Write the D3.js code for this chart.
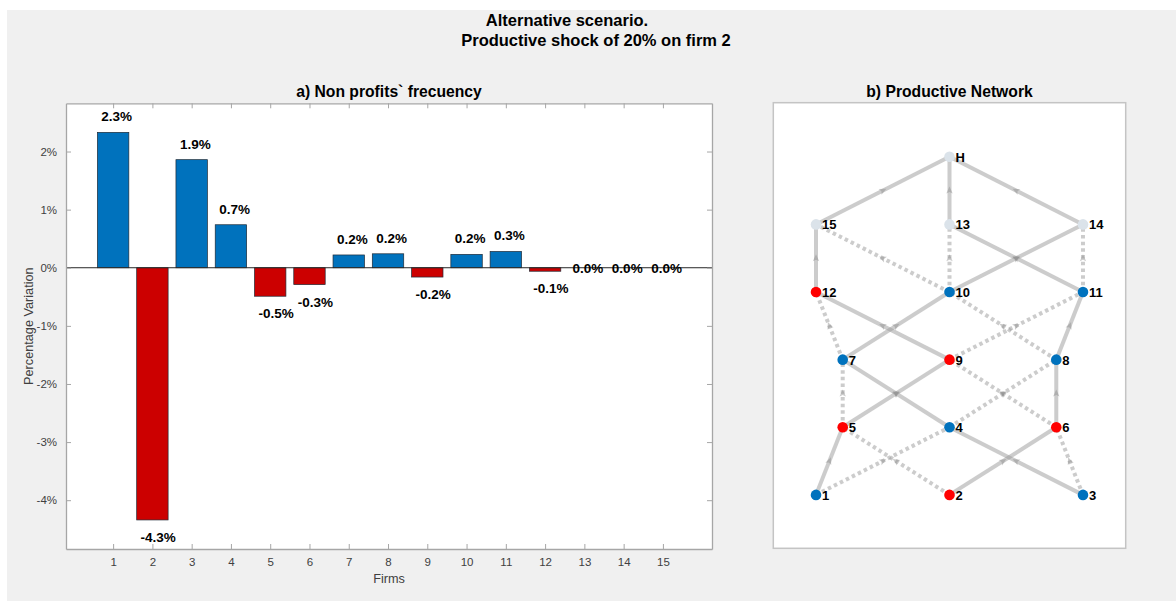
<!DOCTYPE html>
<html>
<head>
<meta charset="utf-8">
<script src="https://cdn.jsdelivr.net/npm/d3@7"></script>
<style>
  html, body { margin: 0; padding: 0; background: #ffffff; }
  text { font-family: "Liberation Sans", Arial, Helvetica, sans-serif; }
</style>
</head>
<body>
<svg id="chart" width="1176" height="601"></svg>
<script>
// ---------- Data ----------
const firms = [1, 2, 3, 4, 5, 6, 7, 8, 9, 10, 11, 12, 13, 14, 15];
const variation = [2.33, -4.34, 1.86, 0.74, -0.49, -0.29, 0.22, 0.24, -0.16, 0.23, 0.28, -0.06, 0, 0, 0];
const yTicks = [-4, -3, -2, -1, 0, 1, 2];

const nodeNames = ["1", "2", "3", "4", "5", "6", "7", "8", "9", "10", "11", "12", "13", "14", "15", "H"];
const nodeX     = [1, 2, 3, 2, 1.2, 2.8, 1.2, 2.8, 2, 2, 3, 1, 2, 3, 1, 2];
const nodeLevel = [1, 1, 1, 2, 2, 2, 3, 3, 3, 4, 4, 4, 5, 5, 5, 6];
const nodeGroup = ["gain", "loss", "gain", "gain", "loss", "loss", "gain", "gain", "loss", "gain", "gain", "loss", "top", "top", "top", "top"];

const solidEdges = [["15","H"],["13","H"],["14","H"],["12","15"],["10","14"],["11","13"],["9","12"],["7","10"],["8","11"],["4","7"],["5","9"],["6","8"],["1","5"],["3","4"],["2","6"]];
const dottedEdges = [["10","15"],["10","13"],["11","14"],["7","12"],["8","10"],["9","11"],["5","7"],["6","9"],["4","8"],["2","5"],["1","4"],["3","6"]];

// ---------- Styles ----------
const FIG_BG = "#f0f0f0";
const BLUE = "#0072BD";
const RED = "#CC0000";
const nodeColor = { gain: "#0072BD", loss: "#FF0000", top: "#dbe3ea" };

const svg = d3.select("#chart");

// figure background
svg.append("rect").attr("x", 0).attr("y", 0).attr("width", 1176).attr("height", 601).attr("fill", "#ffffff");
svg.append("rect").attr("x", 7).attr("y", 10).attr("width", 1169).attr("height", 591).attr("fill", FIG_BG);

// main title
svg.append("text").attr("x", 567).attr("y", 26).attr("text-anchor", "middle")
  .attr("font-size", 16.5).attr("font-weight", "bold").attr("fill", "#000").text("Alternative scenario.");
svg.append("text").attr("x", 596).attr("y", 46).attr("text-anchor", "middle")
  .attr("font-size", 16.5).attr("font-weight", "bold").attr("fill", "#000").text("Productive shock of 20% on firm 2");

// ---------- Panel a: bar chart ----------
const A = { left: 66, right: 712, top: 103.3, bottom: 549 };
const x = d3.scaleLinear().domain([-0.2, 16.25]).range([A.left, A.right]);
const yMin = d3.min(variation) - 0.5, yMax = d3.max(variation) + 0.5;
const y = d3.scaleLinear().domain([yMin, yMax]).range([A.bottom, A.top]);

const gA = svg.append("g");
gA.append("rect").attr("x", A.left).attr("y", A.top).attr("width", A.right - A.left)
  .attr("height", A.bottom - A.top).attr("fill", "#fff");

// bars
const bw = x(0.8) - x(0);
gA.selectAll("rect.bar").data(firms).enter().append("rect")
  .attr("class", "bar")
  .attr("x", (d) => x(d) - bw / 2)
  .attr("width", bw)
  .attr("y", (d, i) => y(Math.max(0, variation[i])))
  .attr("height", (d, i) => Math.abs(y(variation[i]) - y(0)))
  .attr("fill", (d, i) => variation[i] >= 0 ? BLUE : RED)
  .attr("stroke", "#1f2a36").attr("stroke-width", 0.7);

// baseline
gA.append("line").attr("x1", A.left).attr("x2", A.right).attr("y1", y(0)).attr("y2", y(0))
  .attr("stroke", "#262626").attr("stroke-width", 1);

// axes (box with inward ticks)
const axisColor = "#a6a6a6";
const tickColor = "#404040";
const axL = d3.axisLeft(y).tickValues(yTicks).tickFormat((d) => d + "%").tickSizeInner(-5).tickSizeOuter(0).tickPadding(9);
const axR = d3.axisRight(y).tickValues(yTicks).tickFormat("").tickSizeInner(-5).tickSizeOuter(0);
const axB = d3.axisBottom(x).tickValues(firms).tickFormat(d3.format("d")).tickSizeInner(-5).tickSizeOuter(0).tickPadding(9);
const axT = d3.axisTop(x).tickValues(firms).tickFormat("").tickSizeInner(-5).tickSizeOuter(0);

function styleAxis(g) {
  g.select(".domain").attr("stroke", axisColor).attr("stroke-width", 1.3);
  g.selectAll(".tick line").attr("stroke", axisColor).attr("stroke-width", 1);
  g.selectAll(".tick text").attr("fill", tickColor).attr("font-size", 11.5)
    .attr("font-family", "\"Liberation Sans\", Arial, sans-serif");
}
gA.append("g").attr("transform", `translate(${A.left},0)`).call(axL).call(styleAxis);
gA.append("g").attr("transform", `translate(${A.right},0)`).call(axR).call(styleAxis);
gA.append("g").attr("transform", `translate(0,${A.bottom})`).call(axB).call(styleAxis);
gA.append("g").attr("transform", `translate(0,${A.top})`).call(axT).call(styleAxis);

// value labels
gA.selectAll("text.val").data(firms).enter().append("text")
  .attr("class", "val")
  .attr("x", (d) => x(d - 0.3))
  .attr("y", (d, i) => {
    const v = variation[i];
    if (v === 0) return y(0) + 5;
    return v > 0 ? y(v) - 11 : y(v) + 22;
  })
  .attr("text-anchor", "start")
  .attr("font-size", 13.5).attr("font-weight", "bold").attr("fill", "#000")
  .text((d, i) => variation[i].toFixed(1) + "%");

// axis labels and title
gA.append("text").attr("x", (A.left + A.right) / 2).attr("y", 583).attr("text-anchor", "middle")
  .attr("font-size", 12.7).attr("fill", tickColor).text("Firms");
gA.append("text").attr("transform", `translate(33,${(A.top + A.bottom) / 2}) rotate(-90)`)
  .attr("text-anchor", "middle").attr("font-size", 12.7).attr("fill", tickColor).text("Percentage Variation");
gA.append("text").attr("x", (A.left + A.right) / 2).attr("y", 97).attr("text-anchor", "middle")
  .attr("font-size", 15.7).attr("font-weight", "bold").attr("fill", "#000").text("a) Non profits` frecuency");

// ---------- Panel b: network ----------
const B = { left: 773.3, right: 1125.7, top: 102.7, bottom: 548.3 };
const nx = d3.scaleLinear().domain([0.68, 3.32]).range([B.left, B.right]);
const ny = d3.scaleLinear().domain([0.21, 6.8]).range([B.bottom, B.top]);

const gB = svg.append("g");
gB.append("rect").attr("x", B.left).attr("y", B.top).attr("width", B.right - B.left)
  .attr("height", B.bottom - B.top).attr("fill", "#fff").attr("stroke", "#c4c4c4").attr("stroke-width", 1.5);
gB.append("text").attr("x", (B.left + B.right) / 2).attr("y", 97).attr("text-anchor", "middle")
  .attr("font-size", 15.7).attr("font-weight", "bold").attr("fill", "#000").text("b) Productive Network");

const nodes = nodeNames.map((n, i) => ({ name: n, x: nodeX[i], lvl: nodeLevel[i], group: nodeGroup[i] }));
const byName = new Map(nodes.map((n) => [n.name, n]));
const edges = solidEdges.map((e) => ({ s: e[0], t: e[1], dotted: false }))
  .concat(dottedEdges.map((e) => ({ s: e[0], t: e[1], dotted: true })));

const edgeG = gB.append("g");
edgeG.selectAll("line").data(edges).enter().append("line")
  .attr("x1", (e) => nx(byName.get(e.s).x)).attr("y1", (e) => ny(byName.get(e.s).lvl))
  .attr("x2", (e) => nx(byName.get(e.t).x)).attr("y2", (e) => ny(byName.get(e.t).lvl))
  .attr("stroke", "#999999").attr("stroke-opacity", 0.5).attr("stroke-width", 4)
  .attr("stroke-dasharray", (e) => e.dotted ? "3.5,3.2" : null);

// arrowheads at edge midpoints
edgeG.selectAll("path.arrow").data(edges).enter().append("path")
  .attr("class", "arrow")
  .attr("d", "M4,0 L-3,-3.2 L-1.5,0 L-3,3.2 Z")
  .attr("transform", (e) => {
    const s = byName.get(e.s), t = byName.get(e.t);
    const x1 = nx(s.x), y1 = ny(s.lvl), x2 = nx(t.x), y2 = ny(t.lvl);
    const ang = Math.atan2(y2 - y1, x2 - x1) * 180 / Math.PI;
    return `translate(${(x1 + x2) / 2},${(y1 + y2) / 2}) rotate(${ang})`;
  })
  .attr("fill", "#8c8c8c").attr("fill-opacity", 0.45);

// nodes
gB.selectAll("circle.node").data(nodes).enter().append("circle")
  .attr("class", "node")
  .attr("cx", (d) => nx(d.x)).attr("cy", (d) => ny(d.lvl)).attr("r", 5.3)
  .attr("fill", (d) => nodeColor[d.group]);

gB.selectAll("text.nlab").data(nodes).enter().append("text")
  .attr("class", "nlab")
  .attr("x", (d) => nx(d.x) + 6).attr("y", (d) => ny(d.lvl) + 5)
  .attr("font-size", 13).attr("font-weight", "bold").attr("fill", "#000")
  .text((d) => d.name);
</script>
</body>
</html>
